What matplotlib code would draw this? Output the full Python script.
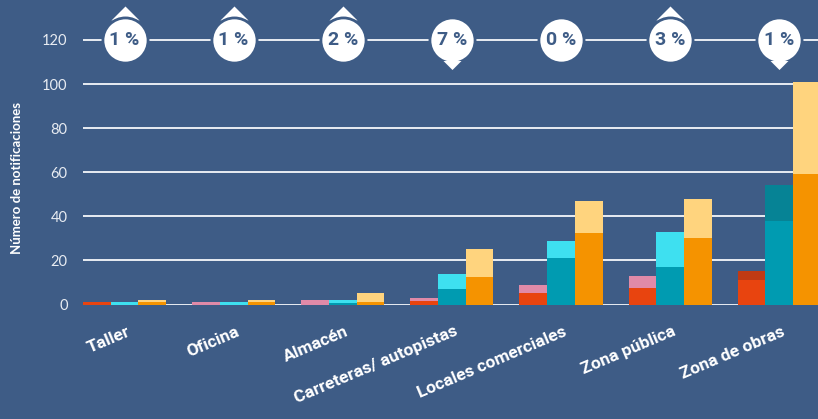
import numpy as np
import matplotlib
matplotlib.use('Agg')
import matplotlib.pyplot as plt
from matplotlib.transforms import ScaledTranslation

# Data
categories = ['Taller', 'Oficina', 'Almacén', 'Carreteras/ autopistas',
              'Locales comerciales', 'Zona pública', 'Zona de obras']
red_base = [1, 0, 0, 1.5, 5, 7.5, 11]
red_total = [1, 1, 2, 3, 9, 13, 15]
teal_base = [0, 0, 0.5, 7, 21, 17, 38]
teal_total = [1, 1, 2, 14, 29, 33, 54]
orange_base = [1, 1, 1, 12.5, 32.5, 30, 59]
orange_total = [2, 2, 5, 25, 47, 48, 101]
pct_change = [1, 1, 2, 7, 0, 3, 1]
pct_trend = [1, 1, 1, -1, 0, 1, -1]   # 1 up, -1 down, 0 none
yticks = [0, 20, 40, 60, 80, 100, 120]

# Colours
bg = '#3e5c86'
red, pink, dark_red = '#e8440f', '#e08aa8', '#c03a14'
teal, cyan, dark_teal = '#009bb1', '#3ee0f0', '#068395'
orange, light_orange = '#f59300', '#ffd47e'

fig = plt.figure(figsize=(8.18, 4.19), dpi=100, facecolor=bg)
ax = fig.add_axes([83/818, 1 - 304.5/419, 1 - 83/818, 304.5/419])
ax.set_facecolor(bg)

x = np.arange(len(categories))
w = 0.254

series = [
    (red_base, red_total, red, pink, dark_red, -w),
    (teal_base, teal_total, teal, cyan, dark_teal, 0),
    (orange_base, orange_total, orange, light_orange, light_orange, w),
]
for base, total, c_base, c_top, c_top_last, off in series:
    base = np.array(base, dtype=float)
    total = np.array(total, dtype=float)
    tops = [c_top] * (len(x) - 1) + [c_top_last]
    ax.bar(x + off, base, width=w, color=c_base, linewidth=0, zorder=2)
    ax.bar(x + off, total - base, bottom=base, width=w, color=tops,
           linewidth=0, zorder=2)

ax.set_xlim(-1.5 * w, -1.5 * w + 735 / 109.1)
ax.set_ylim(0, 304.5 / 2.205)
ax.set_yticks(yticks)
ax.yaxis.grid(True, color='#e8ecf2', linewidth=1.4)
ax.set_axisbelow(True)
for s in ax.spines.values():
    s.set_visible(False)
ax.tick_params(length=0)
ax.tick_params(axis='y', pad=11, labelcolor='#e8ecf2', labelsize=10.5)
for lab in ax.get_yticklabels():
    lab.set_fontfamily('Lato')

ax.set_xticks(x)
ax.set_xticklabels(categories, rotation=23, ha='right', va='top',
                   rotation_mode='anchor', color='white',
                   fontsize=12.5, fontweight='bold', family='Roboto')
ax.tick_params(axis='x', pad=14)
shift = ScaledTranslation(0.02, 0, fig.dpi_scale_trans)
for lab in ax.get_xticklabels():
    lab.set_transform(lab.get_transform() + shift)

fig.text(17/818, 1 - 178/419, 'Número de notificaciones', rotation=90,
         ha='center', va='center', color='white', fontsize=9.5,
         fontweight='bold', family='Lato')

# percentage bubbles with trend arrows
up_cap = [(0, 0.5), (-1, -0.5), (1, -0.5)]
down_cap = [(0, -0.5), (-1, 0.5), (1, 0.5)]
for xi, p, t in zip(x, pct_change, pct_trend):
    if t > 0:
        ax.scatter(xi, 132.3, marker=up_cap, s=20.2**2, color='white',
                   linewidths=0, zorder=4, clip_on=False)
    elif t < 0:
        ax.scatter(xi, 108.7, marker=down_cap, s=13**2, color='white',
                   linewidths=0, zorder=6, clip_on=False)
    ax.scatter(xi, 120, s=32.5**2, color='white', edgecolors=bg,
               linewidths=2.0, zorder=5, clip_on=False)
    ax.text(xi, 120, f'{p} %', ha='center', va='center', color=bg,
            fontsize=14, fontweight='bold', family='Roboto', zorder=7)

fig.savefig('out.png', dpi=100, facecolor=bg)
